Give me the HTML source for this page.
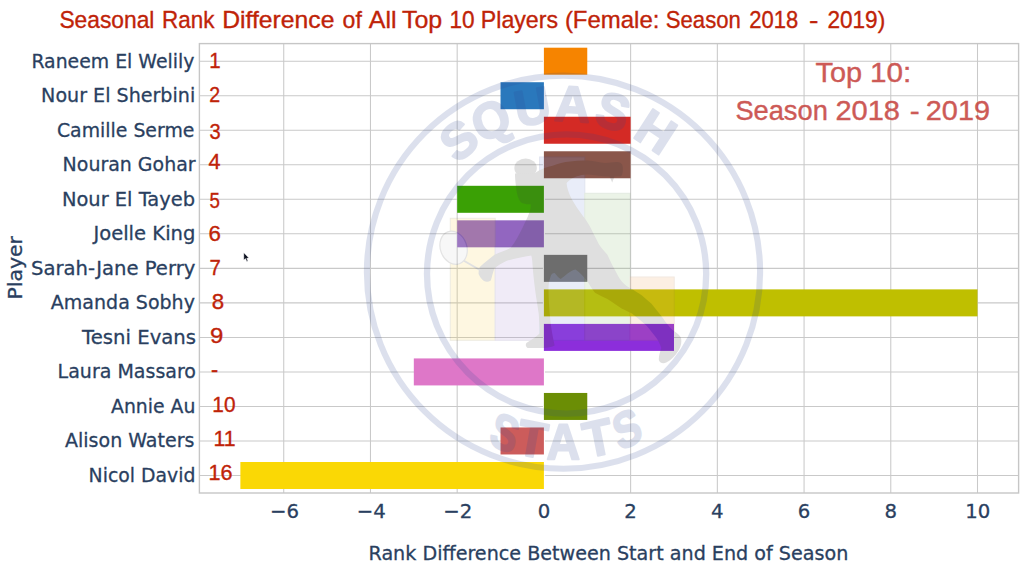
<!DOCTYPE html>
<html lang="en"><head><meta charset="utf-8">
<title>Seasonal Rank Difference of All Top 10 Players (Female: Season 2018 - 2019)</title>
<style>
html,body{margin:0;padding:0;background:#fff;}
body{width:1024px;height:571px;overflow:hidden;}
svg{display:block;}
.lib{font-family:"Liberation Sans",sans-serif;}
.dv{font-family:"DejaVu Sans","Liberation Sans",sans-serif;}
</style></head><body>
<svg width="1024" height="571" viewBox="0 0 1024 571">
<rect x="0" y="0" width="1024" height="571" fill="#ffffff"/>
<g stroke="#c9c9c9" stroke-width="1.05" fill="none">
<line x1="283.74" y1="43.6" x2="283.74" y2="493.0"/>
<line x1="370.46" y1="43.6" x2="370.46" y2="493.0"/>
<line x1="457.18" y1="43.6" x2="457.18" y2="493.0"/>
<line x1="630.62" y1="43.6" x2="630.62" y2="493.0"/>
<line x1="717.34" y1="43.6" x2="717.34" y2="493.0"/>
<line x1="804.06" y1="43.6" x2="804.06" y2="493.0"/>
<line x1="890.78" y1="43.6" x2="890.78" y2="493.0"/>
<line x1="977.50" y1="43.6" x2="977.50" y2="493.0"/>
<line x1="199.4" y1="61.20" x2="1018.6" y2="61.20"/>
<line x1="199.4" y1="95.72" x2="1018.6" y2="95.72"/>
<line x1="199.4" y1="130.25" x2="1018.6" y2="130.25"/>
<line x1="199.4" y1="164.77" x2="1018.6" y2="164.77"/>
<line x1="199.4" y1="199.30" x2="1018.6" y2="199.30"/>
<line x1="199.4" y1="233.82" x2="1018.6" y2="233.82"/>
<line x1="199.4" y1="268.35" x2="1018.6" y2="268.35"/>
<line x1="199.4" y1="302.88" x2="1018.6" y2="302.88"/>
<line x1="199.4" y1="337.40" x2="1018.6" y2="337.40"/>
<line x1="199.4" y1="371.92" x2="1018.6" y2="371.92"/>
<line x1="199.4" y1="406.45" x2="1018.6" y2="406.45"/>
<line x1="199.4" y1="440.97" x2="1018.6" y2="440.97"/>
<line x1="199.4" y1="475.50" x2="1018.6" y2="475.50"/>
</g>
<line x1="543.90" y1="43.6" x2="543.90" y2="493.0" stroke="#ffffff" stroke-width="2"/>
<rect x="199.4" y="43.6" width="819.20" height="449.40" fill="none" stroke="#c6c6c6" stroke-width="1.4"/>
<g>
<rect x="543.90" y="47.70" width="43.36" height="27.0" fill="#f68400"/>
<rect x="500.54" y="82.22" width="43.36" height="27.0" fill="#2a78bc"/>
<rect x="543.90" y="116.75" width="86.72" height="27.0" fill="#d42a25"/>
<rect x="543.90" y="151.27" width="86.72" height="27.0" fill="#8a564a"/>
<rect x="457.18" y="185.80" width="86.72" height="27.0" fill="#3aa005"/>
<rect x="457.18" y="220.32" width="86.72" height="27.0" fill="#9266c0"/>
<rect x="543.90" y="254.85" width="43.36" height="27.0" fill="#777777"/>
<rect x="543.90" y="289.38" width="433.60" height="27.0" fill="#bfbf00"/>
<rect x="543.90" y="323.90" width="130.08" height="27.0" fill="#8c2edb"/>
<rect x="413.82" y="358.42" width="130.08" height="27.0" fill="#de77c8"/>
<rect x="543.90" y="392.95" width="43.36" height="27.0" fill="#6b8e05"/>
<rect x="500.54" y="427.47" width="43.36" height="27.0" fill="#cc5c5b"/>
<rect x="240.38" y="462.00" width="303.52" height="27.0" fill="#fad805"/>
</g>
<g opacity="0.16">
<g stroke-width="1">
<rect x="450.3" y="218.3" width="44.9" height="122" fill="#f9d34a" stroke="#9a8a50"/>
<rect x="495.2" y="247" width="45.0" height="93.3" fill="#a788d3" stroke="#6a5a9a"/>
<rect x="539.6" y="157" width="45.2" height="183.3" fill="#7c95e0" stroke="#4a5fa8"/>
<rect x="584.8" y="193.3" width="45.2" height="147" fill="#88ba6f" stroke="#5a8a50"/>
<rect x="630" y="277" width="44.2" height="63.3" fill="#f2a156" stroke="#b07848"/>
</g>
<g fill="#3c3c3c" stroke="none">
<ellipse cx="525.6" cy="168" rx="11.2" ry="9.6"/>
<path d="M535 173 C541 169 547 167 552.6 165.8 C558 163.5 564 162 570 161.4 C576 160.6 582 160.3 587.6 160.5 C594 161 600 162.6 605 163 C610 163 615 161.6 619 162.3 C622 163 623.2 166 622.8 169 C623 172 622.2 175 620.9 176.3 L614.5 176.6 L612.2 182.6 L609.6 176.6 C603 176.6 595 175 587.6 174.5 C583 174.5 580 175.4 577 176.3 C572 178 568 181 566.6 183.3 C567 188 568.5 192 570 195.6 C572 200 574.5 204 577 207.8 C580 212 583 216 585.9 220 C588.5 224 591 228 592.9 232.4 C595 236.5 597 240.5 599 244.6 C601.5 248.5 604.5 251.5 607.4 254.7 C610 260 612 265 614.7 269.4 C617 274 619 278 622 281.7 C625 285 628 287 631.9 289 C635 291 638 293 641.7 295.2 C645 298 648 301 651.5 303.8 C655 308 658 312 661.3 316 C664 319.5 666 323 668.7 325.8 C670 328 672 329.5 673.6 330.7 C677 333 680 335 681 338 C682 343 680.5 347 678.5 350.4 C675 356 671 360 666.2 362.6 C663 364 660 363 658.9 360.2 C658.5 356 660 352 661.3 347.9 C660 344.5 658.5 341 656.4 338.1 C653.5 334 650 330 646.6 325.8 C642 321.5 637 317.5 631.9 313.6 C628.5 311.5 625 310 622 308.7 C617 305 612 302 607.4 298.9 C603 297 599 295 595 292.7 C592 289 590 285.5 587.7 281.7 C584 277 580 272.5 575.5 269.4 C570 270.5 565 276 560.7 279 C558 277.5 556.5 275 554.6 273 C552.5 273 551 274.5 550.5 277 C549 281 548.5 285 548.5 289 C548.6 297 549 305 549.7 313.6 C550.3 320 551 327 552.2 333.2 C553 338 554 342 554.6 345.5 C551 347.3 547 347.9 543.6 347.9 L527.6 347.9 C525.5 346.8 525.5 344.5 526.4 343 C531 340 536 337 539.9 333.2 C539.8 327 539.2 320 538.7 313.6 C537.5 305 536 297 535 289 C534 281 533 272 532.5 264.5 C532.4 261 532 258 531.3 255.5 C523 257 514 258.5 506.8 260.8 C502 263 498 265.5 494.5 268.2 C493 272 492 276.5 490.8 280.5 C488.5 282 486 282 484 281 C481.5 279 479.5 276.5 478.6 274 C478.5 271.5 479 269 479.8 267 C484.5 262.5 489.5 258.5 494.5 254.7 C500 252.5 505.5 250.5 510.5 248.1 C513 244.8 515.5 241.3 517.5 237.6 C520 233 522.5 228.5 524.5 223.6 C526.5 219.5 528.5 215.5 529.8 211.3 C530.6 209 530.9 206.5 530.7 204.3 C527 204.5 523.5 204 521 202.6 C519.3 200.5 518.2 198 517.5 195.6 C516.6 192 516 188.5 515.8 185 C515.3 181 515 177 515 173.5 Z"/>
</g>
<path d="M482.5 271.5 L463.5 260.5" stroke="#4a4a4a" stroke-width="2.0" fill="none"/>
<ellipse cx="453.6" cy="247.8" rx="13.2" ry="17" transform="rotate(-20 453.6 247.8)" fill="#cfcfcf" stroke="#5a5a5a" stroke-width="1.2"/>
<circle cx="563.5" cy="272.2" r="196.6" fill="none" stroke="#2c4792" stroke-width="6.1"/>
<circle cx="566.6" cy="274.0" r="139.6" fill="none" stroke="#2c4792" stroke-width="6.3"/>
<text font-size="50.5" font-weight="700" class="lib" fill="#2c4792" stroke="#2c4792" stroke-width="2.0" stroke-linejoin="round"><tspan x="456.66" y="164.28" rotate="-38.60" textLength="32.34" lengthAdjust="spacingAndGlyphs">S</tspan><tspan x="481.20" y="144.23" rotate="-25.70" textLength="37.32" lengthAdjust="spacingAndGlyphs">Q</tspan><tspan x="517.91" y="127.14" rotate="-10.70" textLength="35.73" lengthAdjust="spacingAndGlyphs">U</tspan><tspan x="553.83" y="120.45" rotate="3.10" textLength="35.73" lengthAdjust="spacingAndGlyphs">A</tspan><tspan x="592.71" y="123.17" rotate="17.20" textLength="32.34" lengthAdjust="spacingAndGlyphs">S</tspan><tspan x="631.47" y="136.18" rotate="33.30" textLength="35.73" lengthAdjust="spacingAndGlyphs">H</tspan></text>
<text font-size="50.5" font-weight="700" class="lib" fill="#2c4792" stroke="#2c4792" stroke-width="2.0" stroke-linejoin="round"><tspan x="487.48" y="443.58" rotate="19.80" textLength="26.95" lengthAdjust="spacingAndGlyphs">S</tspan><tspan x="515.01" y="453.40" rotate="10.50" textLength="29.31" lengthAdjust="spacingAndGlyphs">T</tspan><tspan x="546.40" y="459.17" rotate="0.10" textLength="33.54" lengthAdjust="spacingAndGlyphs">A</tspan><tspan x="587.07" y="458.29" rotate="-11.70" textLength="29.31" lengthAdjust="spacingAndGlyphs">T</tspan><tspan x="619.50" y="451.13" rotate="-21.50" textLength="26.95" lengthAdjust="spacingAndGlyphs">S</tspan></text>
</g>
<g class="dv" font-size="20.1" fill="#2a3f5f" stroke="#2a3f5f" stroke-width="0.3">
<text x="31.40" y="67.70" textLength="163.00" lengthAdjust="spacingAndGlyphs">Raneem El Welily</text>
<text x="41.10" y="102.22" textLength="154.10" lengthAdjust="spacingAndGlyphs">Nour El Sherbini</text>
<text x="56.95" y="136.75" textLength="137.45" lengthAdjust="spacingAndGlyphs">Camille Serme</text>
<text x="62.60" y="171.27" textLength="133.00" lengthAdjust="spacingAndGlyphs">Nouran Gohar</text>
<text x="61.95" y="205.80" textLength="133.10" lengthAdjust="spacingAndGlyphs">Nour El Tayeb</text>
<text x="93.40" y="240.32" textLength="102.00" lengthAdjust="spacingAndGlyphs">Joelle King</text>
<text x="31.00" y="274.85" textLength="164.35" lengthAdjust="spacingAndGlyphs">Sarah-Jane Perry</text>
<text x="50.80" y="309.38" textLength="144.15" lengthAdjust="spacingAndGlyphs">Amanda Sobhy</text>
<text x="82.10" y="343.90" textLength="113.95" lengthAdjust="spacingAndGlyphs">Tesni Evans</text>
<text x="57.60" y="378.42" textLength="138.40" lengthAdjust="spacingAndGlyphs">Laura Massaro</text>
<text x="111.00" y="412.95" textLength="84.40" lengthAdjust="spacingAndGlyphs">Annie Au</text>
<text x="65.00" y="447.47" textLength="129.40" lengthAdjust="spacingAndGlyphs">Alison Waters</text>
<text x="88.60" y="482.00" textLength="106.80" lengthAdjust="spacingAndGlyphs">Nicol David</text>
</g>
<g class="dv" font-size="19.7" fill="#2a3f5f" stroke="#2a3f5f" stroke-width="0.3">
<text x="284.44" y="517.8" text-anchor="middle">−6</text>
<text x="371.16" y="517.8" text-anchor="middle">−4</text>
<text x="457.88" y="517.8" text-anchor="middle">−2</text>
<text x="543.90" y="517.8" text-anchor="middle">0</text>
<text x="630.62" y="517.8" text-anchor="middle">2</text>
<text x="717.34" y="517.8" text-anchor="middle">4</text>
<text x="804.06" y="517.8" text-anchor="middle">6</text>
<text x="890.78" y="517.8" text-anchor="middle">8</text>
<text x="977.70" y="517.8" text-anchor="middle">10</text>
</g>
<text class="dv" font-size="19.2" fill="#2a3f5f" stroke="#2a3f5f" stroke-width="0.3" x="368.50" y="560.3" textLength="479.80" lengthAdjust="spacingAndGlyphs">Rank Difference Between Start and End of Season</text>
<text class="dv" font-size="19.7" fill="#2a3f5f" stroke="#2a3f5f" stroke-width="0.3" transform="translate(22.2 299.5) rotate(-90)" textLength="63.4" lengthAdjust="spacingAndGlyphs">Player</text>
<text class="lib" font-size="23.7" fill="#bf2308" stroke="#bf2308" stroke-width="0.35" y="27.8"><tspan x="59.40" textLength="95.00" lengthAdjust="spacingAndGlyphs">Seasonal</tspan> <tspan x="162.00" textLength="52.40" lengthAdjust="spacingAndGlyphs">Rank</tspan> <tspan x="222.20" textLength="112.20" lengthAdjust="spacingAndGlyphs">Difference</tspan> <tspan x="342.60" textLength="19.20" lengthAdjust="spacingAndGlyphs">of</tspan> <tspan x="368.80" textLength="27.80" lengthAdjust="spacingAndGlyphs">All</tspan> <tspan x="401.90" textLength="40.30" lengthAdjust="spacingAndGlyphs">Top</tspan> <tspan x="449.45" textLength="25.15" lengthAdjust="spacingAndGlyphs">10</tspan> <tspan x="480.80" textLength="77.20" lengthAdjust="spacingAndGlyphs">Players</tspan> <tspan x="564.90" textLength="94.50" lengthAdjust="spacingAndGlyphs">(Female:</tspan> <tspan x="665.80" textLength="75.00" lengthAdjust="spacingAndGlyphs">Season</tspan> <tspan x="749.20" textLength="49.00" lengthAdjust="spacingAndGlyphs">2018</tspan> <tspan x="809.00" textLength="9.45" lengthAdjust="spacingAndGlyphs">-</tspan> <tspan x="827.40" textLength="57.80" lengthAdjust="spacingAndGlyphs">2019)</tspan></text>
<g class="lib" font-size="21.4" fill="#bf2308" stroke="#bf2308" stroke-width="0.35">
<text x="209.30" y="68.1" textLength="11.40" lengthAdjust="spacingAndGlyphs">1</text>
<text x="209.30" y="101.7" textLength="10.90" lengthAdjust="spacingAndGlyphs">2</text>
<text x="209.60" y="138.8" textLength="11.20" lengthAdjust="spacingAndGlyphs">3</text>
<text x="208.60" y="169.0" textLength="12.00" lengthAdjust="spacingAndGlyphs">4</text>
<text x="209.50" y="208.2" textLength="10.40" lengthAdjust="spacingAndGlyphs">5</text>
<text x="208.60" y="240.7" textLength="12.40" lengthAdjust="spacingAndGlyphs">6</text>
<text x="209.50" y="274.6" textLength="11.30" lengthAdjust="spacingAndGlyphs">7</text>
<text x="211.80" y="309.0" textLength="12.40" lengthAdjust="spacingAndGlyphs">8</text>
<text x="210.00" y="343.2" textLength="13.30" lengthAdjust="spacingAndGlyphs">9</text>
<text x="211.0" y="377.0">-</text>
<text x="212.30" y="411.7" textLength="23.20" lengthAdjust="spacingAndGlyphs">10</text>
<text x="213.40" y="446.0" textLength="22.10" lengthAdjust="spacingAndGlyphs">11</text>
<text x="208.55" y="479.5" textLength="23.95" lengthAdjust="spacingAndGlyphs">16</text>
</g>
<g class="lib" font-size="28.4" fill="#c5403b" stroke="#c5403b" stroke-width="0.4" opacity="0.86">
<text y="82.0"><tspan x="815.60" textLength="46.60" lengthAdjust="spacingAndGlyphs">Top</tspan> <tspan x="870.00" textLength="41.20" lengthAdjust="spacingAndGlyphs">10:</tspan></text>
<text y="120.2"><tspan x="735.40" textLength="92.40" lengthAdjust="spacingAndGlyphs">Season</tspan> <tspan x="835.40" textLength="64.60" lengthAdjust="spacingAndGlyphs">2018</tspan> <tspan x="909.85" textLength="9.95" lengthAdjust="spacingAndGlyphs">-</tspan> <tspan x="925.80" textLength="64.20" lengthAdjust="spacingAndGlyphs">2019</tspan></text>
</g>
<path d="M243.8 252.8 L243.8 260.1 L245.5 258.6 L246.8 261.4 L247.9 260.9 L246.7 258.2 L248.9 258 Z" fill="#0b0f1e" stroke="#fff" stroke-width="0.4"/>
</svg>
</body></html>
